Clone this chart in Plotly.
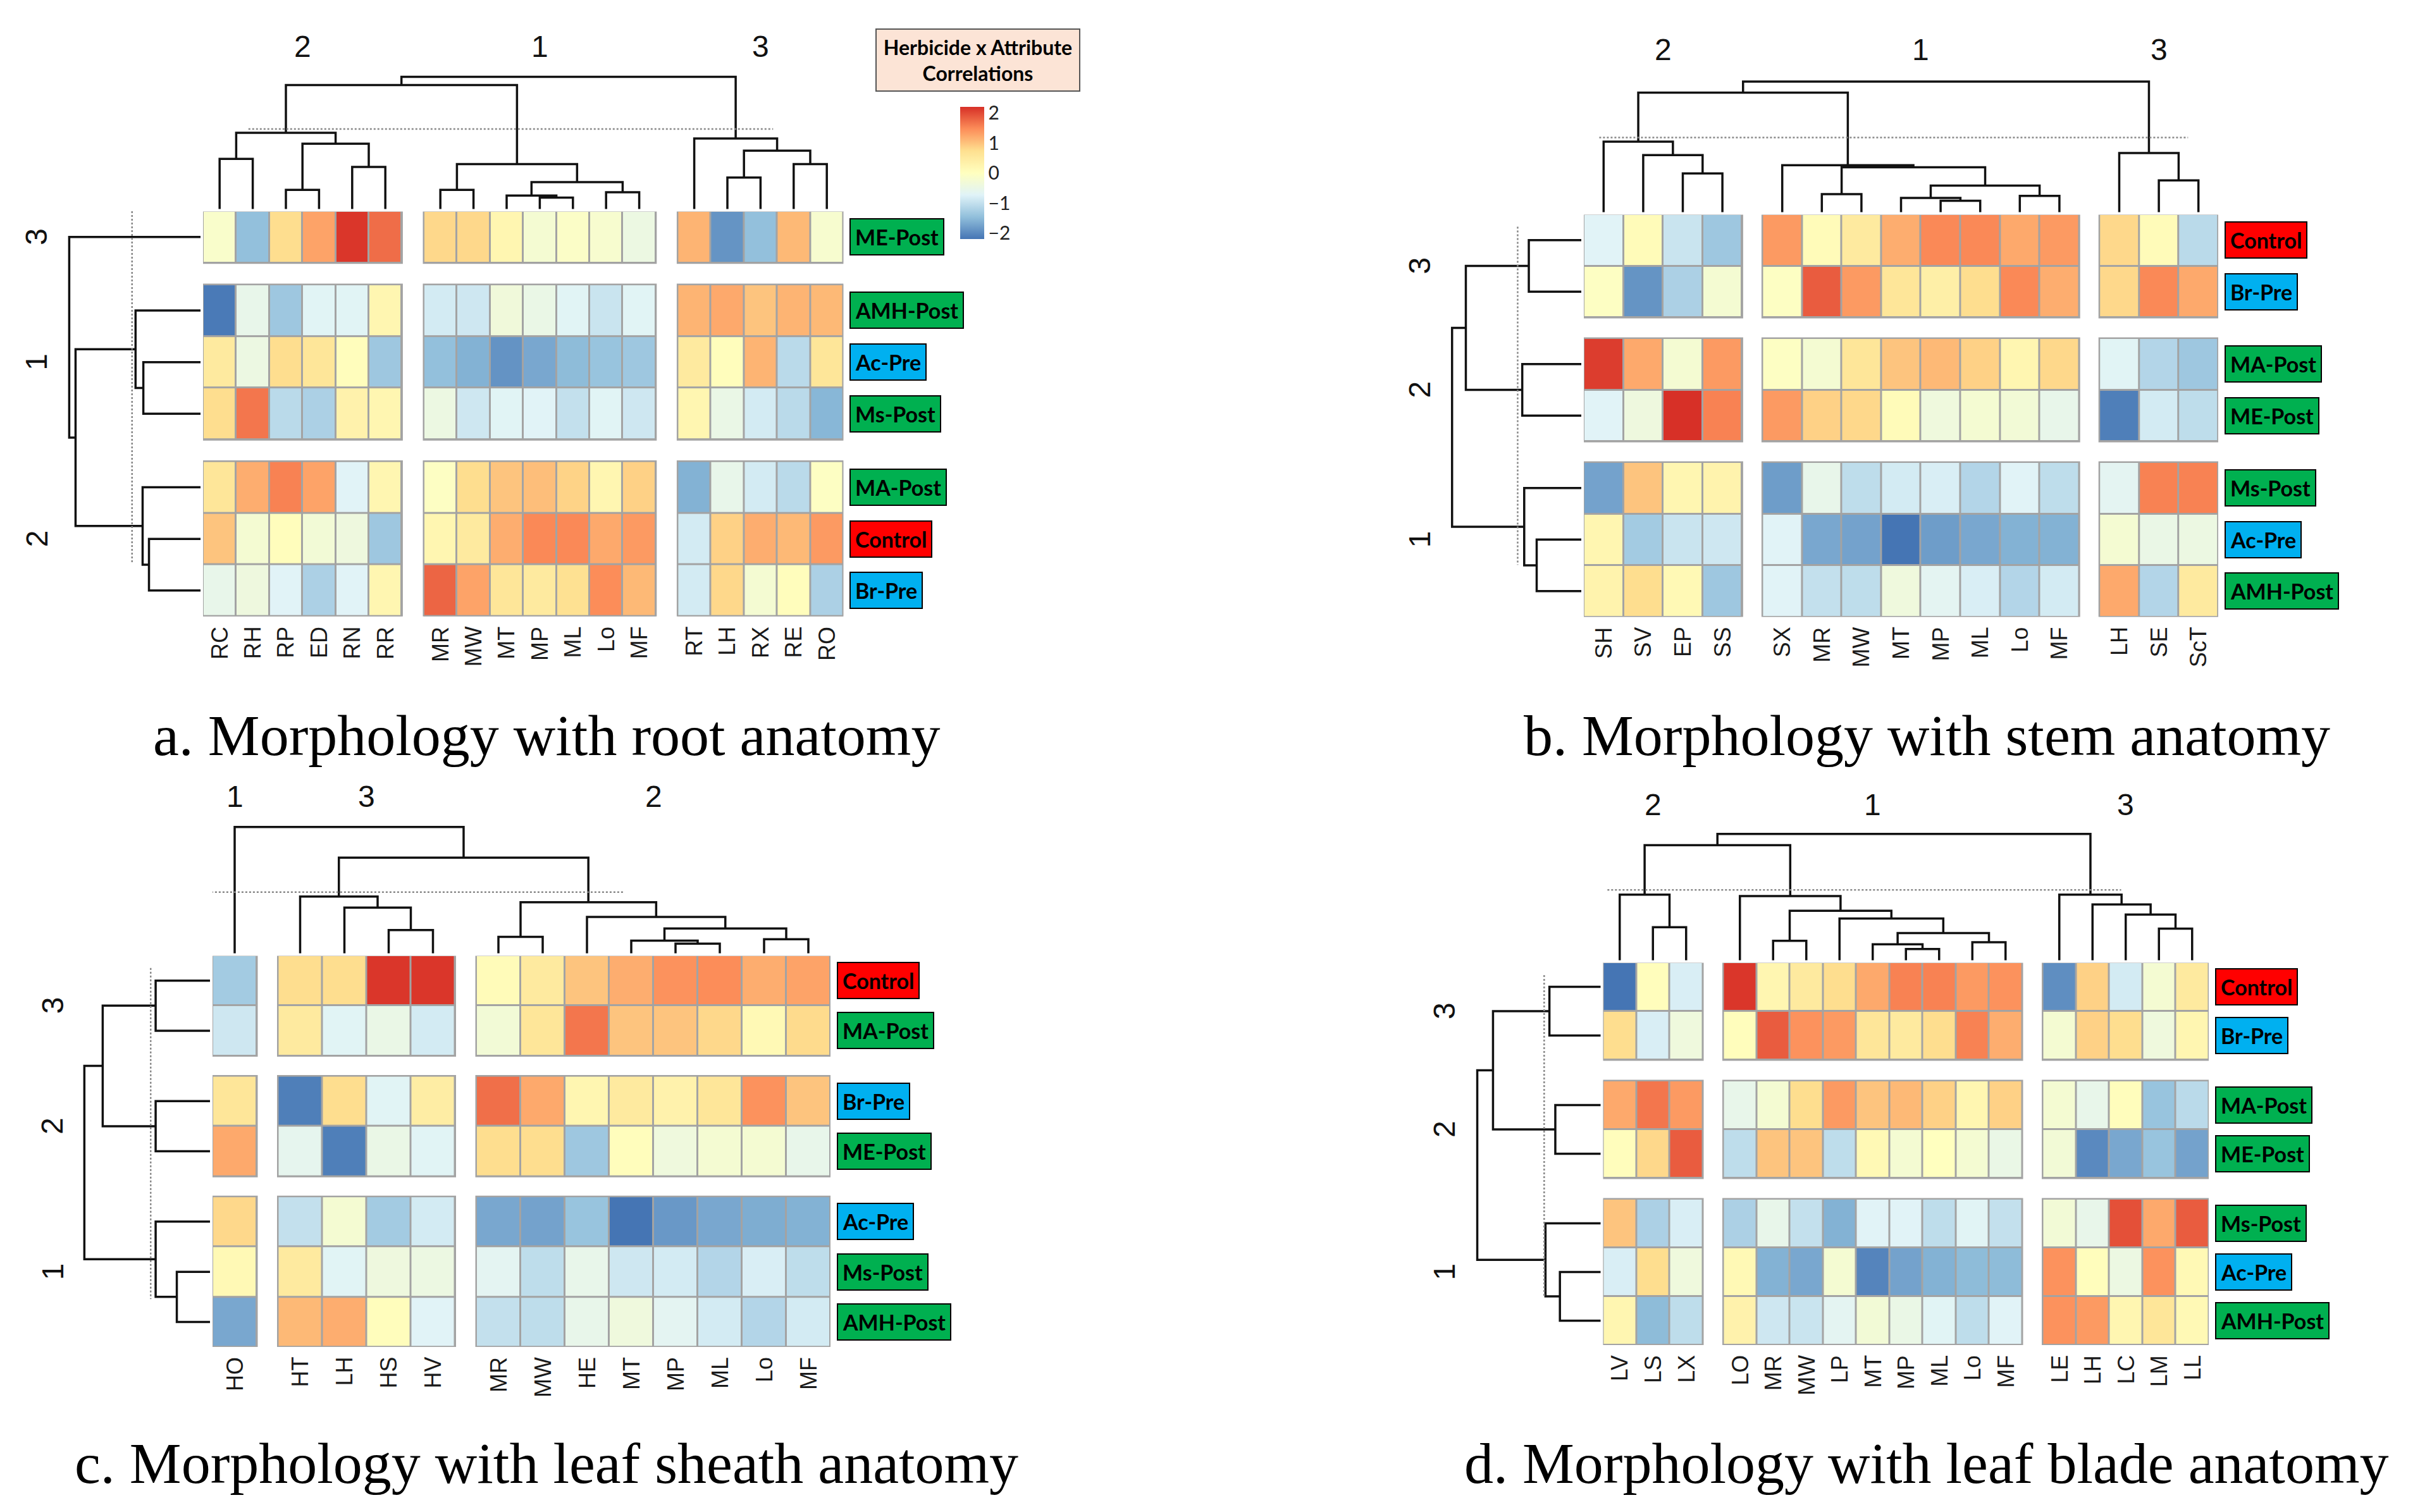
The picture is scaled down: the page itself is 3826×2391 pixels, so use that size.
import plotly.graph_objects as go

W, H = 3826, 2391
OFF = 8  # default page body margin of the written html

COLORSCALE = [[0.0, "#4575B4"], [1/6, "#91BFDB"], [2/6, "#E0F3F8"], [0.5, "#FFFFBF"],
              [4/6, "#FEE090"], [5/6, "#FC8D59"], [1.0, "#D73027"]]
ZMIN, ZMAX = -2.2, 2.2
CB_TICKS = [-2, -1, 0, 1, 2]
CB_TEXT = ["\u22122", "\u22121", "0", "1", "2"]
LEGEND_TITLE = "Herbicide x Attribute<br>Correlations"

LABEL_FILL = {"Control": "#FF0000", "Pre": "#00B0F0", "Post": "#00B050"}

# ---------------- panel a : root anatomy ----------------
a_caption = "a. Morphology with root anatomy"
a_col_groups = [["RC", "RH", "RP", "ED", "RN", "RR"],
                ["MR", "MW", "MT", "MP", "ML", "Lo", "MF"],
                ["RT", "LH", "RX", "RE", "RO"]]
a_col_group_names = ["2", "1", "3"]
a_row_groups = [["ME-Post"], ["AMH-Post", "Ac-Pre", "Ms-Post"], ["MA-Post", "Control", "Br-Pre"]]
a_row_group_names = ["3", "1", "2"]
a_values = [
    [-0.15, -1.45, 0.75, 1.27, 2.15, 1.72, 0.8, 0.8, 0.22, -0.25, -0.1, -0.2, -0.45, 1.12, -1.89, -1.45, 1.08, -0.2],
    [-2.15, -0.55, -1.35, -0.7, -0.7, 0.22, -0.85, -0.9, -0.35, -0.5, -0.7, -0.95, -0.7, 1.12, 1.22, 0.98, 1.12, 1.08],
    [0.5, -0.45, 0.75, 0.6, 0.05, -1.35, -1.45, -1.6, -1.9, -1.7, -1.5, -1.4, -1.35, 0.5, 0.05, 1.12, -1.09, 0.6],
    [0.75, 1.65, -1.09, -1.22, 0.3, 0.22, -0.45, -0.9, -0.7, -0.72, -1.0, -0.7, -0.9, 0.22, -0.5, -0.85, -1.09, -1.55],
    [0.6, 1.18, 1.55, 1.27, -0.72, 0.22, -0.05, 0.75, 0.98, 1.03, 0.85, 0.22, 0.87, -1.6, -0.55, -0.85, -1.09, -0.05],
    [0.98, -0.25, 0.05, -0.3, -0.4, -1.35, 0.22, 0.5, 1.18, 1.5, 1.5, 1.22, 1.35, -0.85, 0.87, 1.18, 1.08, 1.35],
    [-0.55, -0.4, -0.72, -1.22, -0.72, 0.22, 1.78, 1.27, 0.6, 0.5, 0.7, 1.47, 1.08, -0.85, 0.8, -0.25, 0.05, -1.22],
]
a_col_tree = [[[["RC", "RH", 123], [["RP", "ED", 47], ["RN", "RR", 103], 160], 187],
               [["MR", "MW", 47], [["MT", ["MP", "ML", 28], 33], ["Lo", "MF", 41], 66], 110], 304],
              ["RT", [["LH", "RX", 77], ["RE", "RO", 110], 143], 173], 324]
a_row_tree = ["ME-Post", [["AMH-Post", ["Ac-Pre", "Ms-Post", 81], 92],
                          ["MA-Post", ["Control", "Br-Pre", 73], 82], 177], 186]
a_col_cut = [196, 0.87, 16.7]
a_row_cut = [97, -0.5, 6.3]

# ---------------- panel b : stem anatomy ----------------
b_caption = "b. Morphology with stem anatomy"
b_col_groups = [["SH", "SV", "EP", "SS"],
                ["SX", "MR", "MW", "MT", "MP", "ML", "Lo", "MF"],
                ["LH", "SE", "ScT"]]
b_col_group_names = ["2", "1", "3"]
b_row_groups = [["Control", "Br-Pre"], ["MA-Post", "ME-Post"], ["Ms-Post", "Ac-Pre", "AMH-Post"]]
b_row_group_names = ["3", "2", "1"]
b_values = [
    [-0.72, 0.1, -0.95, -1.35, 1.35, 0.1, 0.5, 1.18, 1.5, 1.5, 1.22, 1.35, 0.8, 0.1, -1.09],
    [-0.05, -1.89, -1.22, -0.25, -0.05, 1.85, 1.35, 0.6, 0.38, 0.75, 1.5, 1.18, 0.8, 1.5, 1.22],
    [2.1, 1.22, -0.25, 1.35, -0.05, -0.25, 0.6, 0.98, 1.08, 0.87, 0.22, 0.8, -0.7, -1.15, -1.35],
    [-0.72, -0.4, 2.2, 1.55, 1.35, 0.87, 0.8, 0.1, -0.38, -0.25, -0.3, -0.55, -2.1, -0.85, -1.05],
    [-1.75, 0.98, 0.22, 0.28, -1.8, -0.55, -1.05, -0.85, -0.8, -1.15, -0.72, -1.05, -0.65, 1.55, 1.55],
    [0.22, -1.3, -0.95, -0.9, -0.72, -1.7, -1.75, -2.2, -1.8, -1.7, -1.6, -1.6, -0.25, -0.5, -0.45],
    [0.28, 0.75, 0.15, -1.35, -0.72, -1.0, -1.05, -0.38, -0.65, -0.8, -1.15, -0.85, 1.22, -1.15, 0.5],
]
b_col_tree = [[["SH", ["SV", ["EP", "SS", 95], 140], 173],
               ["SX", [["MR", "MW", 44], [["MT", ["MP", "ML", 28], 35], ["Lo", "MF", 40], 65], 110], 115], 293],
              ["LH", ["SE", "ScT", 78], 145], 320]
b_row_tree = [[["Control", "Br-Pre", 80], ["MA-Post", "ME-Post", 90], 176],
              ["Ms-Post", ["Ac-Pre", "AMH-Post", 68], 87], 197]
b_col_cut = [183, -0.11, 14.76]
b_row_cut = [97, -0.26, 6.3]

# ---------------- panel c : leaf sheath anatomy ----------------
c_caption = "c. Morphology with leaf sheath anatomy"
c_col_groups = [["HO"], ["HT", "LH", "HS", "HV"],
                ["MR", "MW", "HE", "MT", "MP", "ML", "Lo", "MF"]]
c_col_group_names = ["1", "3", "2"]
c_row_groups = [["Control", "MA-Post"], ["Br-Pre", "ME-Post"], ["Ac-Pre", "Ms-Post", "AMH-Post"]]
c_row_group_names = ["3", "2", "1"]
c_values = [
    [-1.3, 0.75, 0.75, 2.15, 2.15, 0.1, 0.5, 0.98, 1.18, 1.42, 1.47, 1.18, 1.27],
    [-0.9, 0.5, -0.7, -0.5, -0.85, -0.3, 0.6, 1.65, 0.98, 0.98, 0.8, 0.15, 0.78],
    [0.6, -2.1, 0.75, -0.7, 0.42, 1.7, 1.22, 0.22, 0.5, 0.3, 0.6, 1.42, 0.98],
    [1.22, -0.6, -2.1, -0.5, -0.7, 0.75, 0.75, -1.35, 0.05, -0.38, -0.25, -0.25, -0.55],
    [0.8, -1.0, -0.25, -1.3, -0.85, -1.7, -1.75, -1.4, -2.2, -1.85, -1.7, -1.65, -1.6],
    [0.15, 0.5, -0.7, -0.4, -0.45, -0.65, -1.05, -0.55, -0.9, -0.85, -1.15, -0.8, -1.05],
    [-1.7, 1.08, 1.18, 0.05, -0.72, -1.0, -1.05, -0.55, -0.38, -0.65, -0.85, -1.15, -0.85],
]
c_col_tree = ["HO", [["HT", ["LH", ["HS", "HV", 48], 94], 117],
                     [["MR", "MW", 34], ["HE", [["MT", ["MP", "ML", 20], 26], ["Lo", "MF", 29], 51], 75], 105],
                     197], 260]
c_row_tree = [[["Control", "MA-Post", 77], ["Br-Pre", "ME-Post", 77], 152],
              ["Ac-Pre", ["Ms-Post", "AMH-Post", 47], 77], 178]
c_col_cut = [126, -0.53, 8.77]
c_row_cut = [84, -0.25, 6.35]

# ---------------- panel d : leaf blade anatomy ----------------
d_caption = "d. Morphology with leaf blade anatomy"
d_col_groups = [["LV", "LS", "LX"],
                ["LO", "MR", "MW", "LP", "MT", "MP", "ML", "Lo", "MF"],
                ["LE", "LH", "LC", "LM", "LL"]]
d_col_group_names = ["2", "1", "3"]
d_row_groups = [["Control", "Br-Pre"], ["MA-Post", "ME-Post"], ["Ms-Post", "Ac-Pre", "AMH-Post"]]
d_row_group_names = ["3", "2", "1"]
d_values = [
    [-2.2, 0.05, -0.8, 2.15, 0.22, 0.5, 0.75, 1.22, 1.55, 1.55, 1.35, 1.42, -1.95, 0.87, -0.85, -0.25, 0.5],
    [0.75, -0.8, -0.38, 0.05, 1.85, 1.42, 1.35, 0.6, 0.5, 0.75, 1.55, 1.18, -0.25, 0.87, 0.75, -0.38, 0.22],
    [1.22, 1.65, 1.35, -0.55, -0.25, 0.75, 1.35, 0.98, 1.08, 0.87, 0.22, 0.87, -0.25, -0.55, 0.05, -1.4, -1.09],
    [0.05, 0.8, 1.85, -1.05, 0.98, 0.98, -1.05, 0.15, -0.25, 0.0, -0.25, -0.5, -0.3, -2.0, -1.7, -1.4, -1.75],
    [0.98, -1.22, -0.8, -1.22, -0.55, -1.0, -1.6, -0.72, -0.72, -1.05, -0.7, -1.0, -0.3, -0.55, 1.95, 1.22, 1.85],
    [-0.8, 0.75, -0.38, 0.15, -1.6, -1.7, -0.25, -2.05, -1.75, -1.6, -1.5, -1.5, 1.42, 0.05, -0.45, 1.42, 0.15],
    [0.22, -1.5, -1.05, 0.3, -0.9, -0.95, -0.65, -0.3, -0.5, -0.7, -1.05, -0.72, 1.42, 1.35, 0.22, 0.6, 0.15],
]
d_col_tree = [[["LV", ["LS", "LX", 68], 135],
               ["LO", [["MR", "MW", 40], ["LP", [["MT", ["MP", "ML", 23], 33], ["Lo", "MF", 37], 56], 86], 102], 132],
               237],
              ["LE", ["LH", ["LC", ["LM", "LL", 65], 94], 115], 135], 260]
d_row_tree = [[["Control", "Br-Pre", 78], ["MA-Post", "ME-Post", 69], 164],
              ["Ms-Post", ["Ac-Pre", "AMH-Post", 62], 84], 188]
d_col_cut = [145, -0.37, 15.1]
d_row_cut = [86, -0.24, 6.35]

# ---------------- layout (pixels of the 3826 x 2391 page) ----------------
panels = [
    dict(cols=a_col_groups, cnames=a_col_group_names, rows=a_row_groups, rnames=a_row_group_names,
         z=a_values, ctree=a_col_tree, rtree=a_row_tree, ccut=a_col_cut, rcut=a_row_cut, caption=a_caption,
         L=321, T=334, cw=52.4, rh=81.7, cg=34.6, rg=34.4, cs=0.645, rs=1.116,
         gl_y=73, rgl_x=58, cap_x=864, cap_y=1163),
    dict(cols=b_col_groups, cnames=b_col_group_names, rows=b_row_groups, rnames=b_row_group_names,
         z=b_values, ctree=b_col_tree, rtree=b_row_tree, ccut=b_col_cut, rcut=b_row_cut, caption=b_caption,
         L=2504, T=339, cw=62.6, rh=81.5, cg=32, rg=33, cs=0.645, rs=1.037,
         gl_y=78, rgl_x=2244, cap_x=3046, cap_y=1163),
    dict(cols=c_col_groups, cnames=c_col_group_names, rows=c_row_groups, rnames=c_row_group_names,
         z=c_values, ctree=c_col_tree, rtree=c_row_tree, ccut=c_col_cut, rcut=c_row_cut, caption=c_caption,
         L=336, T=1511, cw=70.0, rh=79.3, cg=33.5, rg=32, cs=0.768, rs=1.116,
         gl_y=1259, rgl_x=83, cap_x=864, cap_y=2314),
    dict(cols=d_col_groups, cnames=d_col_group_names, rows=d_row_groups, rnames=d_row_group_names,
         z=d_values, ctree=d_col_tree, rtree=d_row_tree, ccut=d_col_cut, rcut=d_row_cut, caption=d_caption,
         L=2534.5, T=1522, cw=52.5, rh=77.0, cg=32.5, rg=33, cs=0.768, rs=1.037,
         gl_y=1272, rgl_x=2283, cap_x=3045, cap_y=2314),
]

LABEL_FONT = "Lato, Carlito, Calibri, Open Sans, sans-serif"
AXIS_FONT = "Liberation Sans, Arial, sans-serif"
CAPTION_FONT = "Liberation Serif, Times New Roman, serif"
GRID_GREY = "#A3A3A3"


def fx(px):
    return (px - OFF) / W


def fy(py):
    return 1 - (py - OFF) / H


def ax(i):
    return ("x" if i == 1 else f"x{i}"), ("y" if i == 1 else f"y{i}")


def lay(kind, i):
    return f"{kind}axis" if i == 1 else f"{kind}axis{i}"


def dendro(tree, pos):
    xs, ys = [], []

    def rec(node):
        if isinstance(node, str):
            return pos[node], 0.0
        left, right, h = node
        xl, hl = rec(left)
        xr, hr = rec(right)
        xs.extend([xl, xl, xr, xr, None])
        ys.extend([hl, h, h, hr, None])
        return (xl + xr) / 2, h

    rec(tree)
    return xs, ys


def label_color(name):
    if name == "Control":
        return LABEL_FILL["Control"]
    return LABEL_FILL["Pre"] if name.endswith("Pre") else LABEL_FILL["Post"]


fig = go.Figure()
shapes, annotations = [], []
hidden = dict(visible=False, showgrid=False, zeroline=False, fixedrange=True)
first_heat = True

for p, P in enumerate(panels):
    ih, ic, ir = 3 * p + 1, 3 * p + 2, 3 * p + 3
    xh, yh = ax(ih)
    xc, yc = ax(ic)
    xr, yr = ax(ir)
    gcol = P["cg"] / P["cw"]
    grow = P["rg"] / P["rh"]

    col_pos, col_groups_pos = {}, []
    k = 0
    for g, grp in enumerate(P["cols"]):
        gp = []
        for name in grp:
            col_pos[name] = k + g * gcol
            gp.append(k + g * gcol)
            k += 1
        col_groups_pos.append(gp)
    row_pos, row_groups_pos = {}, []
    k = 0
    for g, grp in enumerate(P["rows"]):
        gp = []
        for name in grp:
            row_pos[name] = k + g * grow
            gp.append(k + g * grow)
            k += 1
        row_groups_pos.append(gp)

    xmin, xmax = -0.5, col_groups_pos[-1][-1] + 0.5
    ymin, ymax = -0.5, row_groups_pos[-1][-1] + 0.5
    Lpx, Tpx = P["L"], P["T"]
    Rpx = Lpx + (xmax - xmin) * P["cw"]
    Bpx = Tpx + (ymax - ymin) * P["rh"]

    fig.layout[lay("x", ih)] = dict(hidden, range=[xmin, xmax], domain=[fx(Lpx), fx(Rpx)], anchor=yh)
    fig.layout[lay("y", ih)] = dict(hidden, range=[ymax, ymin], domain=[fy(Bpx), fy(Tpx)], anchor=xh)

    flat_cols = [c for grp in P["cols"] for c in grp]
    flat_rows = [r for grp in P["rows"] for r in grp]
    ci0 = 0
    for cg_i, cgrp in enumerate(P["cols"]):
        ri0 = 0
        for rg_i, rgrp in enumerate(P["rows"]):
            zsub = [P["z"][ri0 + i][ci0:ci0 + len(cgrp)] for i in range(len(rgrp))]
            xs = col_groups_pos[cg_i]
            ys = row_groups_pos[rg_i]
            tr = dict(x=xs, y=ys, z=zsub, xaxis=xh, yaxis=yh, zmin=ZMIN, zmax=ZMAX,
                      colorscale=COLORSCALE, xgap=3, ygap=3, hoverinfo="skip", showscale=False)
            if first_heat:
                tr.update(showscale=True, colorbar=dict(
                    x=fx(1518), xanchor="left", y=fy(169), yanchor="top", xpad=0, ypad=0,
                    len=209 / H, lenmode="fraction", thickness=38, thicknessmode="pixels",
                    tickvals=CB_TICKS, ticktext=CB_TEXT, ticks="", outlinewidth=0,
                    tickfont=dict(family=LABEL_FONT, size=30, color="#222")))
                first_heat = False
            fig.add_trace(go.Heatmap(**tr))
            shapes.append(dict(type="rect", xref=xh, yref=yh, layer="below",
                               x0=xs[0] - 0.5, x1=xs[-1] + 0.5, y0=ys[0] - 0.5, y1=ys[-1] + 0.5,
                               fillcolor=GRID_GREY, line=dict(color=GRID_GREY, width=3)))
            ri0 += len(rgrp)
        ci0 += len(cgrp)

    # column dendrogram (base a few px above the cells)
    pad = 4
    htop = P["ctree"][2]
    s = P["cs"]
    base = Tpx - 3.5
    r0, r1 = -pad / s, htop + pad / s
    fig.layout[lay("x", ic)] = dict(hidden, range=[xmin, xmax], domain=[fx(Lpx), fx(Rpx)], anchor=yc)
    fig.layout[lay("y", ic)] = dict(hidden, range=[r0, r1],
                                    domain=[fy(base - r0 * s), fy(base - r1 * s)], anchor=xc)
    dx, dy = dendro(P["ctree"], col_pos)
    fig.add_trace(go.Scatter(x=dx, y=dy, xaxis=xc, yaxis=yc, mode="lines",
                             line=dict(color="#111", width=3.5), hoverinfo="skip", showlegend=False))
    cut_h, cut_a, cut_b = P["ccut"]
    fig.add_trace(go.Scatter(x=[cut_a, cut_b], y=[cut_h, cut_h], xaxis=xc, yaxis=yc, mode="lines",
                             line=dict(color="#888", width=2.5, dash="dot"), hoverinfo="skip", showlegend=False))

    # row dendrogram
    htop = P["rtree"][2]
    s = P["rs"]
    base = Lpx - 4
    r0, r1 = -pad / s, htop + pad / s
    fig.layout[lay("x", ir)] = dict(hidden, range=[r1, r0],
                                    domain=[fx(base - r1 * s), fx(base - r0 * s)], anchor=yr)
    fig.layout[lay("y", ir)] = dict(hidden, range=[ymax, ymin], domain=[fy(Bpx), fy(Tpx)], anchor=xr)
    dy2, dx2 = dendro(P["rtree"], row_pos)
    fig.add_trace(go.Scatter(x=dx2, y=dy2, xaxis=xr, yaxis=yr, mode="lines",
                             line=dict(color="#111", width=3.5), hoverinfo="skip", showlegend=False))
    cut_h, cut_a, cut_b = P["rcut"]
    fig.add_trace(go.Scatter(x=[cut_h, cut_h], y=[cut_a, cut_b], xaxis=xr, yaxis=yr, mode="lines",
                             line=dict(color="#888", width=2.5, dash="dot"), hoverinfo="skip", showlegend=False))

    for name in flat_cols:
        annotations.append(dict(text=name, xref=xh, yref=yh, x=col_pos[name], y=ymax, yshift=-14,
                                xanchor="center", yanchor="top", textangle=-90, showarrow=False,
                                font=dict(family=AXIS_FONT, size=36, color="#1a1a1a")))
    for name in flat_rows:
        annotations.append(dict(text=name, xref=xh, yref=yh, x=xmax, xshift=10, y=row_pos[name],
                                xanchor="left", yanchor="middle", showarrow=False,
                                bgcolor=label_color(name), bordercolor="#000", borderwidth=2, borderpad=7,
                                font=dict(family=LABEL_FONT, size=34, color="#000", weight="bold")))
    for gname, gp in zip(P["cnames"], col_groups_pos):
        annotations.append(dict(text=gname, xref=xh, yref="paper", x=sum(gp) / len(gp), y=fy(P["gl_y"]),
                                xanchor="center", yanchor="middle", showarrow=False,
                                font=dict(family=AXIS_FONT, size=48, color="#111")))
    for gname, gp in zip(P["rnames"], row_groups_pos):
        annotations.append(dict(text=gname, xref="paper", yref=yh, x=fx(P["rgl_x"]), y=sum(gp) / len(gp),
                                xanchor="center", yanchor="middle", textangle=-90, showarrow=False,
                                font=dict(family=AXIS_FONT, size=48, color="#111")))
    annotations.append(dict(text=P["caption"], xref="paper", yref="paper", x=fx(P["cap_x"]),
                            y=fy(P["cap_y"]), xanchor="center", yanchor="middle", showarrow=False,
                            font=dict(family=CAPTION_FONT, size=92, color="#000")))

annotations.append(dict(text=LEGEND_TITLE, xref="paper", yref="paper", x=fx(1546), y=fy(95),
                        xanchor="center", yanchor="middle", showarrow=False, width=318, height=94,
                        bgcolor="#FCE4D6", bordercolor="#555", borderwidth=2,
                        font=dict(family=LABEL_FONT, size=32, color="#000", weight="bold")))

fig.update_layout(width=W, height=H, margin=dict(l=0, r=0, t=0, b=0),
                  paper_bgcolor="white", plot_bgcolor="white", showlegend=False,
                  shapes=shapes, annotations=annotations)

fig.write_html("out.html")
